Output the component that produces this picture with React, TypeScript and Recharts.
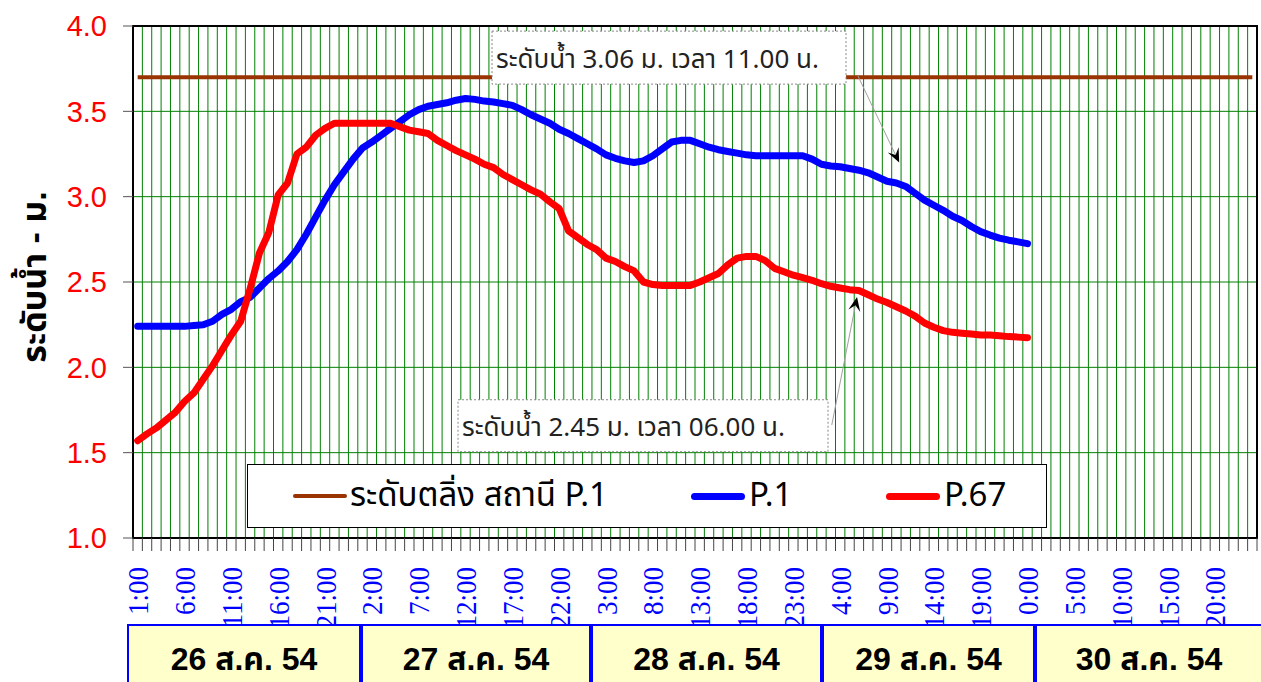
import React from "react";
import {
  LineChart,
  Line,
  XAxis,
  YAxis,
  CartesianGrid,
  Legend,
  ReferenceArea,
  ReferenceLine,
  ReferenceDot,
} from "recharts";

// ---------- data ----------
const HOURS_TOTAL = 120; // 26 Aug 1:00 .. 31 Aug 0:00, hourly
const CATEGORIES: string[] = Array.from({ length: HOURS_TOTAL }, (_, i) => `${(i + 1) % 24}:00`);
const LABEL_EVERY = 5;

const DAY_LABELS = ["26 ส.ค. 54", "27 ส.ค. 54", "28 ส.ค. 54", "29 ส.ค. 54", "30 ส.ค. 54"];

const BANK_LEVEL_P1 = 3.7; // ระดับตลิ่ง สถานี P.1

const P1: number[] = [
  2.24, 2.24, 2.24, 2.24, 2.24, 2.24, 2.245, 2.25, 2.27, 2.31,
  2.34, 2.385, 2.41, 2.465, 2.52, 2.565, 2.62, 2.69, 2.78, 2.88,
  2.98, 3.07, 3.145, 3.22, 3.285, 3.32, 3.36, 3.4, 3.44, 3.48,
  3.51, 3.53, 3.54, 3.55, 3.565, 3.575, 3.57, 3.56, 3.555, 3.545,
  3.535, 3.51, 3.48, 3.455, 3.43, 3.395, 3.37, 3.34, 3.31, 3.28,
  3.245, 3.225, 3.21, 3.2, 3.21, 3.24, 3.28, 3.32, 3.33, 3.33,
  3.31, 3.29, 3.275, 3.265, 3.255, 3.245, 3.24, 3.24, 3.24, 3.24,
  3.24, 3.24, 3.22, 3.19, 3.18, 3.175, 3.165, 3.155, 3.14, 3.115,
  3.09, 3.08, 3.06, 3.02, 2.98, 2.95, 2.92, 2.885, 2.86, 2.825,
  2.795, 2.775, 2.757, 2.745, 2.735, 2.725,
];

const P67: number[] = [
  1.57, 1.61, 1.645, 1.69, 1.735, 1.8, 1.85, 1.93, 2.01, 2.1,
  2.19, 2.27, 2.46, 2.67, 2.79, 3.01, 3.08, 3.25, 3.29, 3.36,
  3.4, 3.43, 3.43, 3.43, 3.43, 3.43, 3.43, 3.43, 3.41, 3.39,
  3.38, 3.37, 3.33, 3.3, 3.27, 3.245, 3.22, 3.19, 3.17, 3.13,
  3.1, 3.07, 3.04, 3.015, 2.97, 2.93, 2.8, 2.76, 2.72, 2.69,
  2.64, 2.62, 2.59, 2.565, 2.5, 2.485, 2.48, 2.48, 2.48, 2.48,
  2.5, 2.525, 2.55, 2.6, 2.64, 2.65, 2.65, 2.625, 2.58, 2.56,
  2.54, 2.525, 2.51, 2.49, 2.475, 2.465, 2.455, 2.45, 2.425, 2.4,
  2.38, 2.355, 2.33, 2.3, 2.26, 2.235, 2.215, 2.205, 2.2, 2.195,
  2.19, 2.19, 2.185, 2.18, 2.177, 2.174,
];

const Y_TICKS = [1.0, 1.5, 2.0, 2.5, 3.0, 3.5, 4.0];

const NOTE_P1 = "ระดับน้ำ 3.06 ม. เวลา 11.00 น.";
const NOTE_P67 = "ระดับน้ำ 2.45 ม. เวลา 06.00 น.";

// ---------- derived ----------
const data = CATEGORIES.map((hour, i) => ({
  pos: i + 0.5,
  hour,
  bank: BANK_LEVEL_P1,
  p1: i < P1.length ? P1[i] : null,
  p67: i < P67.length ? P67[i] : null,
}));
const boundaryTicks = Array.from({ length: HOURS_TOTAL + 1 }, (_, i) => i);
const labelTicks = CATEGORIES.map((_, i) => i).filter((i) => i % LABEL_EVERY === 0).map((i) => i + 0.5);

// ---------- layout / style ----------
const W = 1261;
const H = 682;
const THAI = "'Noto Sans Thai', 'Noto Sans Thai UI', Tahoma, 'Noto Sans', 'DejaVu Sans', sans-serif";
const ARIAL = "'Liberation Sans', Arial, sans-serif";
const NARROW = "'Liberation Sans Narrow', 'Arial Narrow', 'Noto Sans Thai', 'Liberation Sans', sans-serif";
const BOLDTHAI = "'Liberation Sans', Arial, 'Noto Sans Thai', sans-serif";
const DAY_EDGES = [127, 361, 591, 822, 1035, 1263];

const HourTick = (props: any) => {
  const { x, y, payload } = props;
  const idx = Math.round(payload.value - 0.5);
  return (
    <text
      transform={`translate(${x},${y}) rotate(-90) scale(0.9,1)`}
      textAnchor="end"
      dy="0.35em"
      fill="#0000FF"
      fontSize={30}
      fontFamily="'Liberation Serif', 'Times New Roman', serif"
    >
      {CATEGORIES[idx]}
    </text>
  );
};

const YTitle = (props: any) => {
  const { viewBox } = props;
  const cx = 34;
  const cy = viewBox.y + viewBox.height / 2 - 5;
  return (
    <text
      transform={`translate(${cx},${cy}) rotate(-90)`}
      textAnchor="middle"
      dy="0.35em"
      fontSize={34}
      fontWeight="bold"
      fill="#000"
      fontFamily={BOLDTHAI}
    >
      ระดับน้ำ - ม.
    </text>
  );
};

const arrowShape = (p: any) => {
  const { x1, y1, x2, y2 } = p;
  const a = Math.atan2(y2 - y1, x2 - x1);
  const L = 14;
  const Wd = 6;
  const bx = x2 - L * Math.cos(a);
  const by = y2 - L * Math.sin(a);
  const nx = x2 - L * 0.6 * Math.cos(a);
  const ny = y2 - L * 0.6 * Math.sin(a);
  const px = -Math.sin(a) * Wd;
  const py = Math.cos(a) * Wd;
  return (
    <g>
      <line x1={x1} y1={y1} x2={nx} y2={ny} stroke="#a0a0a0" strokeWidth={1} />
      <polygon points={`${x2},${y2} ${bx + px},${by + py} ${nx},${ny} ${bx - px},${by - py}`} fill="#000" />
    </g>
  );
};

const noteShape = (text: string, w: number, h: number) => (p: any) => {
  const { cx, cy } = p;
  return (
    <g>
      <rect x={cx} y={cy} width={w} height={h} fill="#fff" stroke="#888" strokeWidth={1} strokeDasharray="2 2" />
      <text x={cx + 4} y={cy + h / 2 + 1} dy="0.35em" fontSize={26} fill="#222" fontFamily={THAI}>
        {text}
      </text>
    </g>
  );
};

const LegendBox = () => (
  <div
    style={{
      position: "relative",
      width: 800,
      height: 64,
      border: "1px solid #000",
      background: "#fff",
      boxSizing: "border-box",
      fontFamily: NARROW,
      fontSize: 33,
      color: "#000",
    }}
  >
    {[
      { name: "ระดับตลิ่ง สถานี P.1", color: "#993300", w: 4, l: 45, t: 102 },
      { name: "P.1", color: "#0000FF", w: 7, l: 443, t: 501 },
      { name: "P.67", color: "#FF0000", w: 7, l: 638, t: 696 },
    ].map((it) => (
      <React.Fragment key={it.name}>
        <div
          style={{
            position: "absolute",
            left: it.l,
            top: 31 - it.w / 2,
            width: 54,
            height: it.w,
            borderRadius: it.w,
            background: it.color,
          }}
        />
        <div style={{ position: "absolute", left: it.t, top: 0, height: 62, lineHeight: "62px", whiteSpace: "nowrap" }}>
          {it.name}
        </div>
      </React.Fragment>
    ))}
  </div>
);

export default function App() {
  return (
    <div style={{ position: "absolute", left: 0, top: 0, width: W, height: H, background: "#fff", overflow: "hidden" }}>
      <LineChart width={W} height={H} data={data} margin={{ top: 26, right: 4, bottom: 24, left: 0 }}>
        <CartesianGrid stroke="#008000" strokeWidth={1} />
        <XAxis
          xAxisId={0}
          type="number"
          dataKey="pos"
          domain={[0, HOURS_TOTAL]}
          ticks={boundaryTicks}
          interval={0}
          tickFormatter={() => ""}
          tickSize={13}
          height={20}
          axisLine={{ stroke: "#000", strokeWidth: 2 }}
          tickLine={{ stroke: "#444" }}
        />
        <XAxis
          xAxisId="lbl"
          type="number"
          dataKey="pos"
          domain={[0, HOURS_TOTAL]}
          ticks={labelTicks}
          interval={0}
          tick={<HourTick />}
          tickSize={0}
          tickMargin={9}
          height={100}
          axisLine={false}
          tickLine={false}
        />
        <YAxis
          type="number"
          domain={[1, 4]}
          ticks={Y_TICKS}
          interval={0}
          width={133}
          tickFormatter={(v: number) => v.toFixed(1)}
          tick={{ fill: "#FF0000", fontSize: 29, fontFamily: ARIAL }}
          tickSize={10}
          tickMargin={16}
          axisLine={{ stroke: "#000", strokeWidth: 2 }}
          tickLine={{ stroke: "#555" }}
          label={<YTitle />}
        />
        <ReferenceArea x1={0} x2={HOURS_TOTAL} y1={1} y2={4} fill="none" stroke="#000" strokeWidth={2} />
        <Line
          dataKey="bank"
          stroke="#993300"
          strokeWidth={4}
          dot={false}
          isAnimationActive={false}
          legendType="line"
          name="ระดับตลิ่ง สถานี P.1"
        />
        <Line
          dataKey="p1"
          stroke="#0000FF"
          strokeWidth={7}
          strokeLinejoin="round"
          strokeLinecap="round"
          dot={false}
          isAnimationActive={false}
          name="P.1"
        />
        <Line
          dataKey="p67"
          stroke="#FF0000"
          strokeWidth={7}
          strokeLinejoin="round"
          strokeLinecap="round"
          dot={false}
          isAnimationActive={false}
          name="P.67"
        />
        <ReferenceLine
          segment={[
            { x: 77.4, y: 3.707 },
            { x: 81.8, y: 3.2 },
          ]}
          shape={arrowShape}
        />
        <ReferenceLine
          segment={[
            { x: 74.6, y: 1.662 },
            { x: 77.3, y: 2.412 },
          ]}
          shape={arrowShape}
        />
        <ReferenceDot x={38.33} y={3.97} r={1} shape={noteShape(NOTE_P1, 354, 53)} />
        <ReferenceDot x={34.7} y={1.81} r={1} shape={noteShape(NOTE_P67, 370, 52)} />
        <Legend
          content={<LegendBox />}
          layout="horizontal"
          verticalAlign="middle"
          align="center"
          wrapperStyle={{ left: 247, top: 464, width: 800, height: 64 }}
        />
      </LineChart>
      <div style={{ position: "absolute", left: 0, top: 624, width: W, height: 70, zIndex: 2 }}>
        {DAY_LABELS.map((d, i) => (
          <div
            key={d}
            style={{
              position: "absolute",
              left: DAY_EDGES[i],
              top: 0,
              width: DAY_EDGES[i + 1] - DAY_EDGES[i],
              height: 70,
              boxSizing: "border-box",
              border: "2px solid #0000FF",
              background: "#FFFFCC",
              display: "flex",
              alignItems: "flex-start",
              justifyContent: "center",
              paddingTop: 10,
              fontFamily: BOLDTHAI,
              fontWeight: "bold",
              fontSize: 32,
              color: "#000",
            }}
          >
            {d}
          </div>
        ))}
      </div>
    </div>
  );
}
